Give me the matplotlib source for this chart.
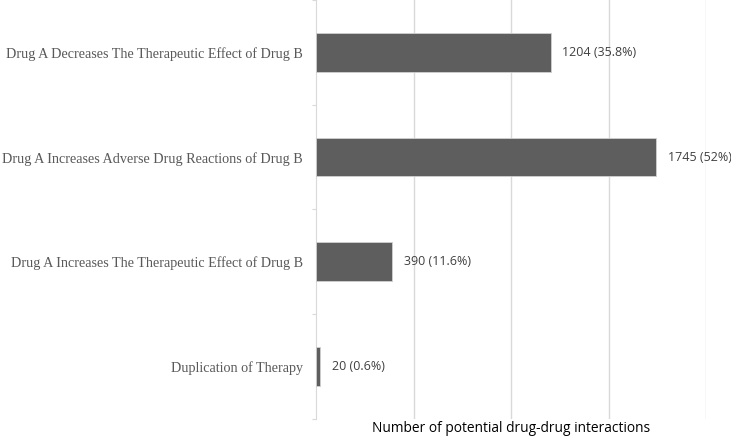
import numpy as np
import matplotlib.pyplot as plt

categorias = [
    "Drug A Decreases The Therapeutic Effect of Drug B",
    "Drug A Increases Adverse Drug Reactions of Drug B",
    "Drug A Increases The Therapeutic Effect of Drug B",
    "Duplication of Therapy",
]
valores = [1204, 1745, 390, 20]
rotulos = ["1204 (35.8%)", "1745 (52%)", "390 (11.6%)", "20 (0.6%)"]

fig = plt.figure(figsize=(7.31, 4.38), dpi=100)
ax = fig.add_axes([0.4323, 0.0434, 0.5335, 0.9566])

pos = np.arange(len(categorias))
ax.barh(pos, valores, height=0.37, color='#5e5e5e', edgecolor='#d0d0d0', linewidth=0.6, zorder=3)

for p, v, r in zip(pos, valores, rotulos):
    ax.text(v + 60, p, r, va='center', ha='left', fontsize=9.0,
            family='Open Sans', color='#404040', zorder=4)

ax.set_xlim(0, 2000)
ax.set_ylim(3.5, -0.5)
ax.set_xticks([500, 1000, 1500, 2000])
ax.set_xticklabels([])
ax.tick_params(axis='x', length=0)
ax.grid(axis='x', color='#d9d9d9', linewidth=1.0, zorder=0)

# ticks nas divisões das categorias, rótulos no centro
ax.set_yticks(np.arange(-0.5, 4, 1.0))
ax.set_yticklabels([])
ax.tick_params(axis='y', which='major', length=3, color='#d9d9d9', direction='out')
ax.set_yticks(pos, minor=True)
ax.set_yticklabels(categorias, minor=True, family='Liberation Serif', fontsize=10.2, color='#595959')
ax.tick_params(axis='y', which='minor', length=0, pad=9.4)

for s in ['top', 'right', 'bottom']:
    ax.spines[s].set_visible(False)
ax.spines['left'].set_color('#d9d9d9')

ax.set_xlabel('Number of potential drug-drug interactions', family='Open Sans',
              fontsize=9.9, color='#000000', va='center')
ax.xaxis.set_label_coords(0.5, -0.022)

fig.savefig('out.png', dpi=100)
